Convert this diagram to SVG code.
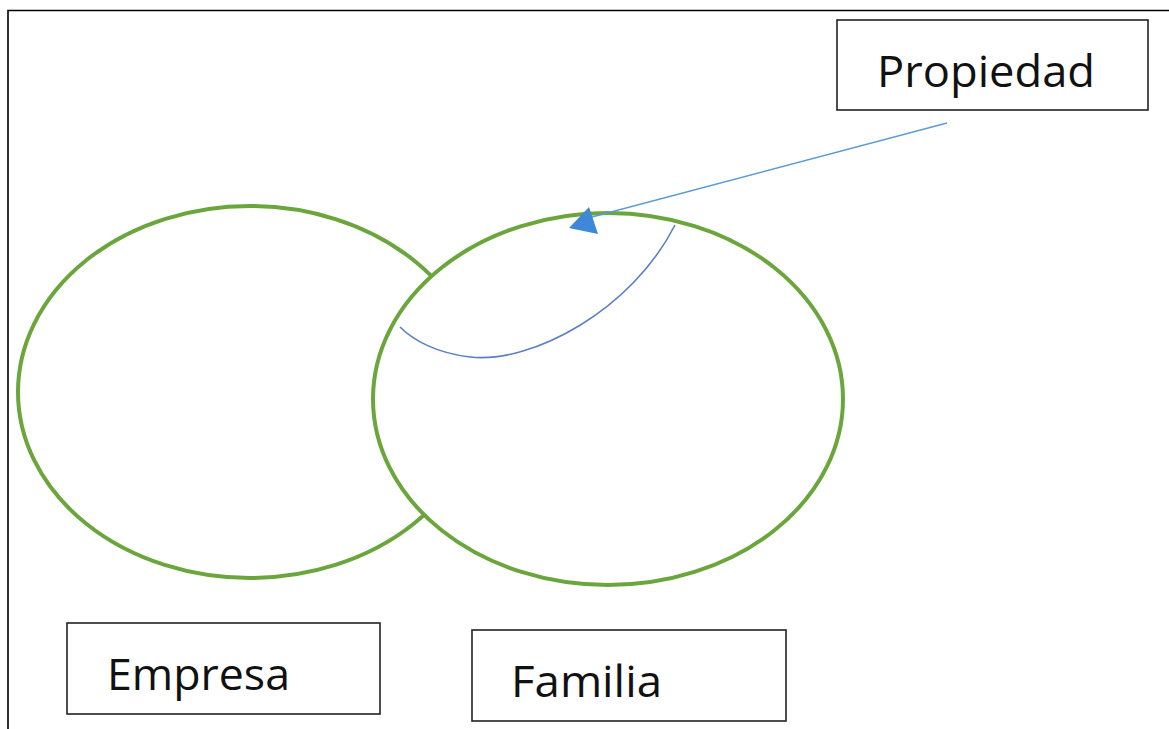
<svg xmlns="http://www.w3.org/2000/svg" width="1169" height="729" viewBox="0 0 1169 729">
  <defs>
    <style>
      .frame { fill: none; stroke: #000; stroke-width: 1.6; }
      .box { fill: #fff; stroke: #222; stroke-width: 1.6; }
      .label { font-family: "Open Sans", "Noto Sans", "Liberation Sans", sans-serif; font-size: 43px; fill: #111; }
      .circle { fill: #fff; stroke: #6aa63c; stroke-width: 4; }
      .link { fill: none; stroke: #5b9bd5; stroke-width: 1.3; }
      .loop { fill: none; stroke: #5a7fc2; stroke-width: 1.6; }
    </style>
  </defs>

  <rect width="1169" height="729" fill="#fff"/>

  <!-- outer frame: only the top and left edges fall inside the canvas -->
  <path class="frame" d="M8,740 V10.5 H1175"/>

  <!-- the two overlapping sets; the right one is opaque and covers the left one -->
  <g id="set-empresa">
    <ellipse class="circle" cx="250" cy="392" rx="232" ry="186"/>
  </g>
  <g id="set-familia">
    <ellipse class="circle" cx="608" cy="399" rx="235" ry="186"/>
  </g>

  <!-- connectors -->
  <g id="connectors">
    <line class="link" x1="947" y1="123" x2="592" y2="217"/>
    <polygon points="569,228 589,207 598,234" fill="#3f88d8"/>
    <path class="loop" d="M675,225 C632,310 532,364 470,357 C436,353 413,340 400,327"/>
  </g>

  <g id="node-propiedad">
    <rect class="box" x="837" y="20" width="311" height="90"/>
    <text class="label" x="877" y="87" font-size="45" textLength="218" lengthAdjust="spacingAndGlyphs">Propiedad</text>
  </g>

  <g id="node-empresa">
    <rect class="box" x="67" y="623" width="313" height="91"/>
    <text class="label" x="107" y="690" textLength="183" lengthAdjust="spacingAndGlyphs">Empresa</text>
  </g>

  <g id="node-familia">
    <rect class="box" x="472" y="630" width="314" height="91"/>
    <text class="label" x="511" y="697" textLength="151" lengthAdjust="spacingAndGlyphs">Familia</text>
  </g>
</svg>
